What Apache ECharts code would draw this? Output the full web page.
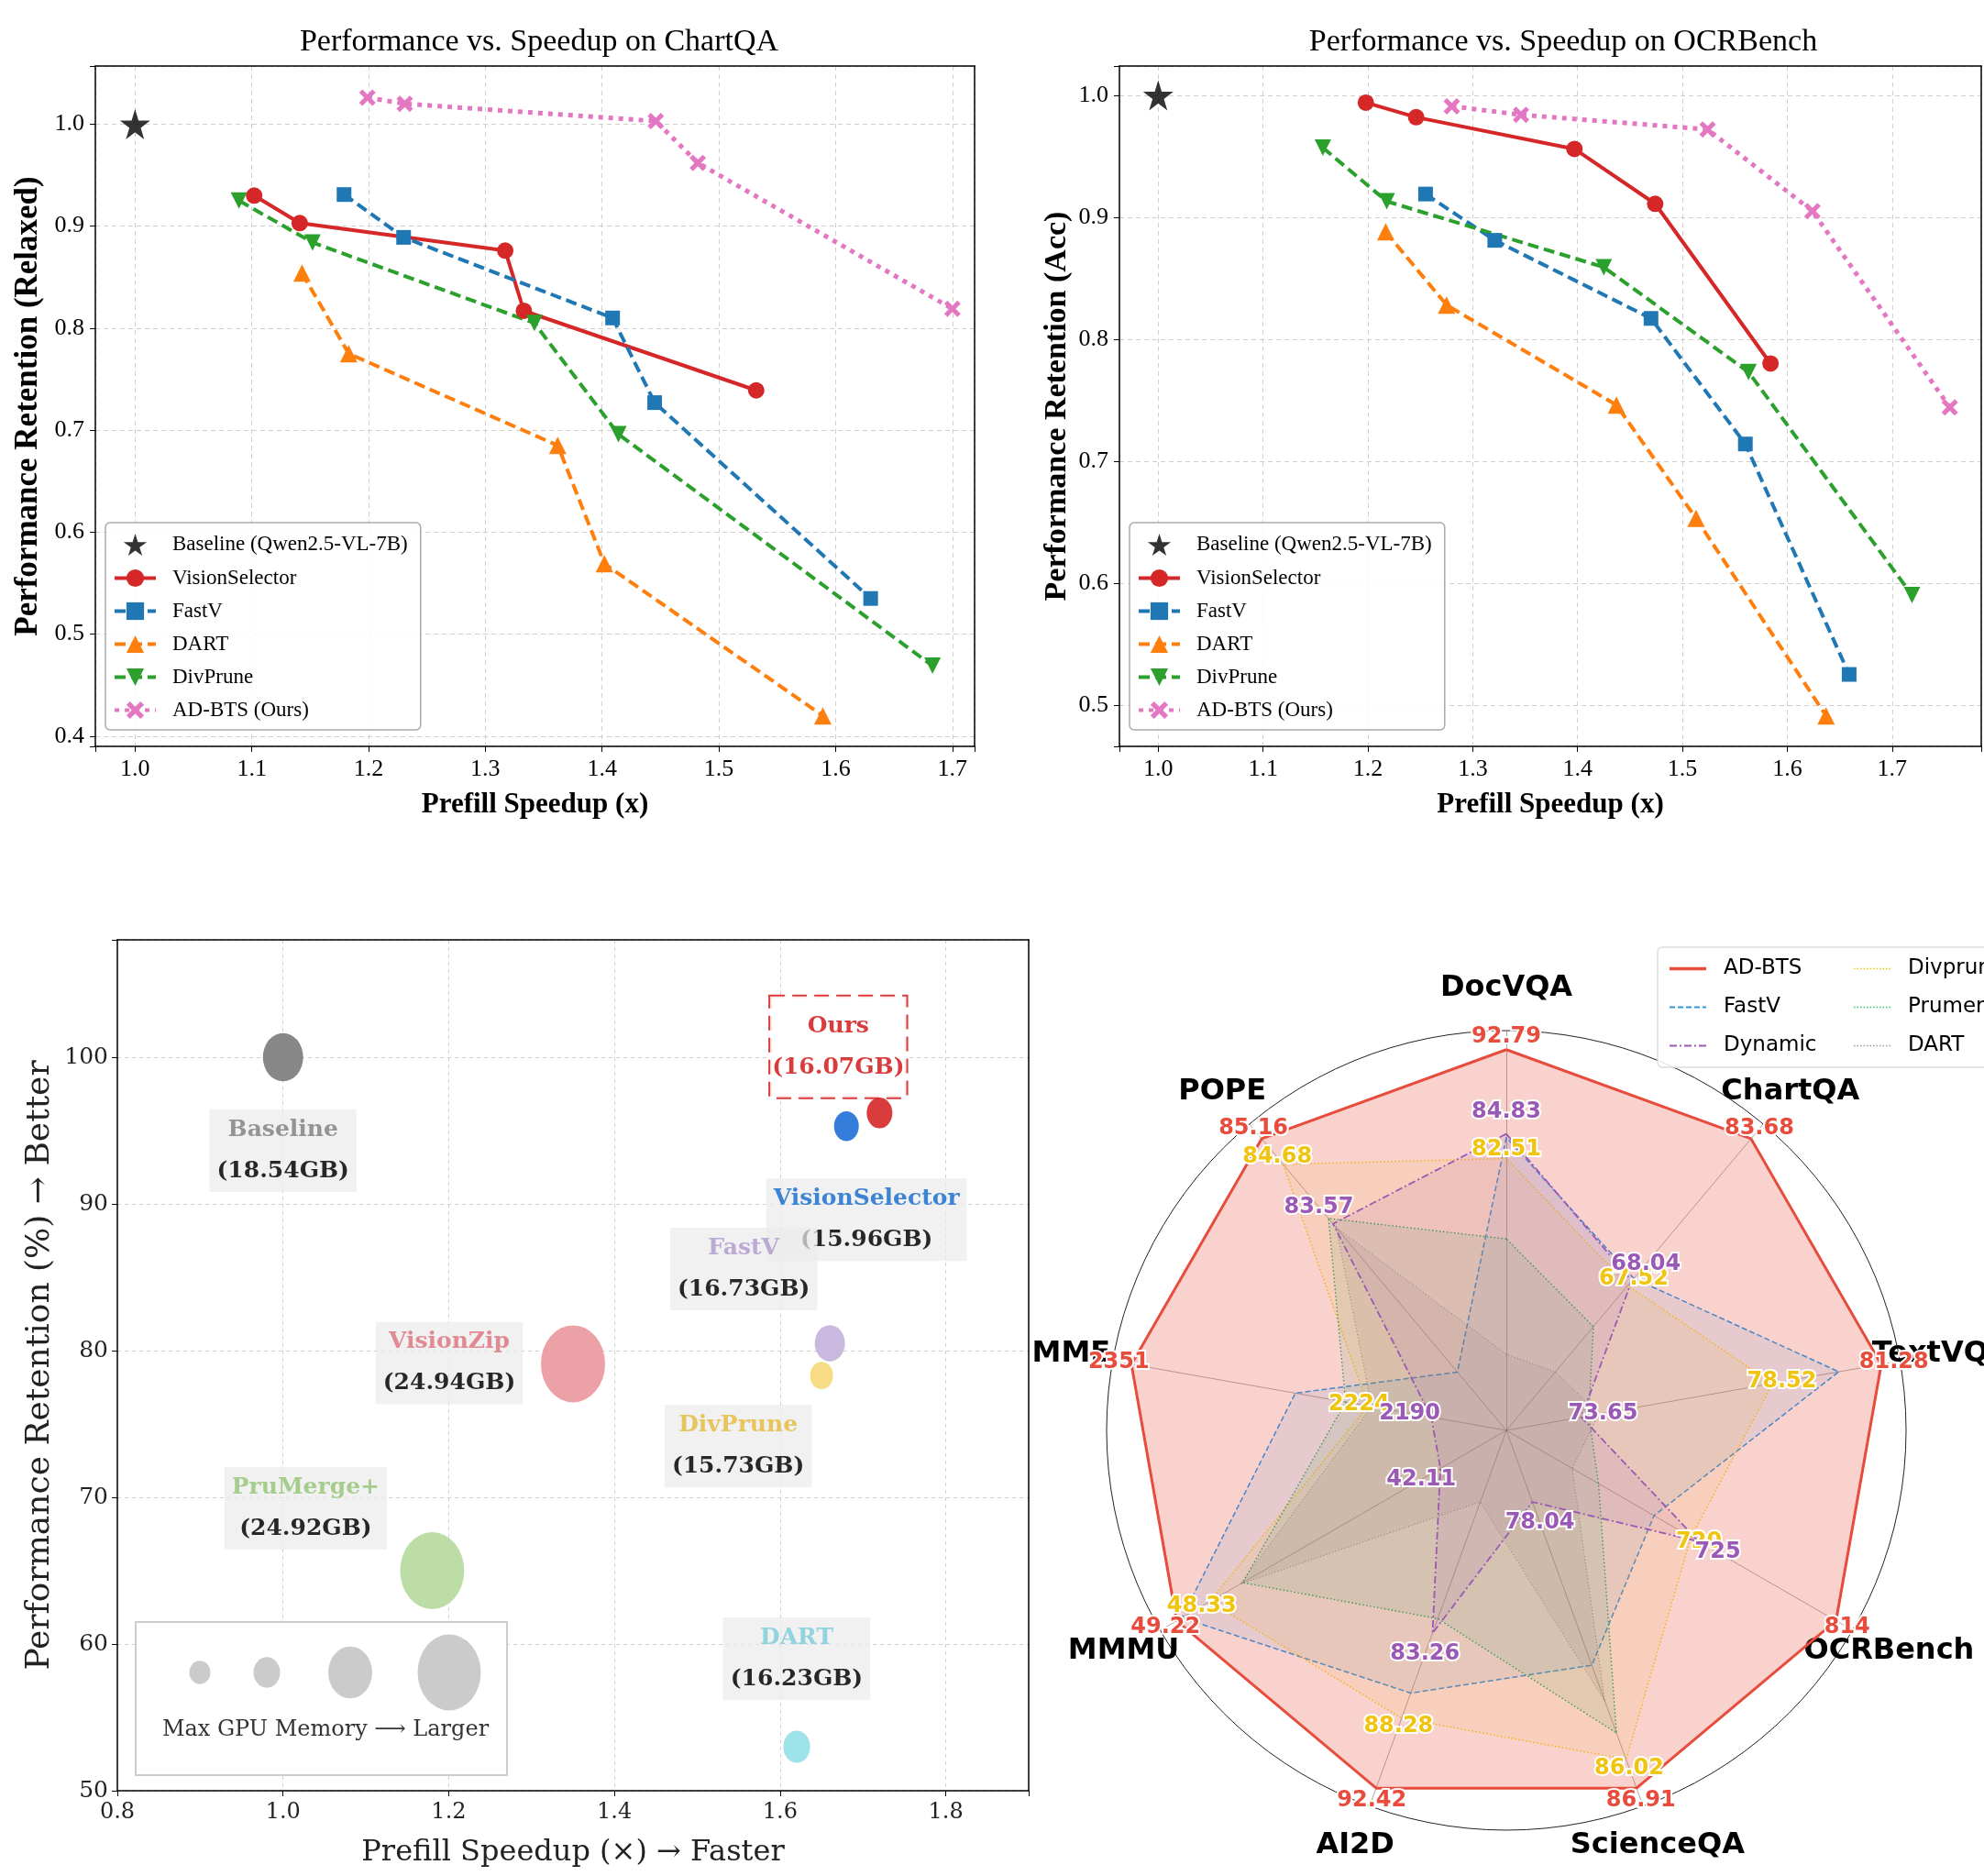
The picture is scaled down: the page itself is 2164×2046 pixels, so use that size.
<!DOCTYPE html>
<html>
<head>
<meta charset="utf-8">
<script src="https://cdn.jsdelivr.net/npm/echarts@6/dist/echarts.min.js"></script>
<style>
html, body { margin: 0; padding: 0; background: #fff; }
#chart { width: 2164px; height: 2046px; }
</style>
</head>
<body>
<div id="chart"></div>
<script>
// ChartQA curves: [prefill speedup, performance retention]
var cqBaseline = [[1.0, 1.0]];
var cqVisionSelector = [[1.102, 0.930], [1.141, 0.903], [1.317, 0.876], [1.333, 0.817], [1.532, 0.739]];
var cqFastV = [[1.179, 0.931], [1.230, 0.889], [1.409, 0.810], [1.445, 0.727], [1.630, 0.535]];
var cqDart = [[1.143, 0.854], [1.183, 0.775], [1.362, 0.685], [1.402, 0.569], [1.589, 0.420]];
var cqDivPrune = [[1.089, 0.925], [1.152, 0.884], [1.342, 0.805], [1.414, 0.696], [1.683, 0.469]];
var cqAdbts = [[1.199, 1.026], [1.231, 1.020], [1.446, 1.003], [1.482, 0.962], [1.700, 0.819]];

// OCRBench curves
var ocrBaseline = [[1.0, 1.0]];
var ocrVisionSelector = [[1.198, 0.994], [1.246, 0.982], [1.397, 0.956], [1.474, 0.911], [1.584, 0.780]];
var ocrFastV = [[1.255, 0.919], [1.321, 0.881], [1.470, 0.817], [1.560, 0.714], [1.659, 0.525]];
var ocrDart = [[1.217, 0.888], [1.275, 0.828], [1.437, 0.746], [1.513, 0.653], [1.637, 0.491]];
var ocrDivPrune = [[1.157, 0.957], [1.218, 0.913], [1.425, 0.859], [1.563, 0.773], [1.719, 0.590]];
var ocrAdbts = [[1.280, 0.991], [1.346, 0.984], [1.524, 0.972], [1.624, 0.905], [1.755, 0.744]];

// bubble chart
var bubbleMethods = ['Baseline', 'Ours', 'VisionSelector', 'FastV', 'DivPrune', 'VisionZip', 'PruMerge+', 'DART'];
var bubbleSpeedup = [1.0, 1.72, 1.68, 1.66, 1.65, 1.35, 1.18, 1.62];
var bubbleRetention = [100, 96.2, 95.3, 80.5, 78.3, 79.1, 65.0, 53.0];
var bubbleMemory = [18.54, 16.07, 15.96, 16.73, 15.73, 24.94, 24.92, 16.23];

// radar, benchmarks clockwise from the top
var radarAxes = ['DocVQA', 'ChartQA', 'TextVQA', 'OCRBench', 'ScienceQA', 'AI2D', 'MMMU', 'MME', 'POPE'];
var radarAdbts = [92.79, 83.68, 81.28, 814, 86.91, 92.42, 49.22, 2351, 85.16];
var radarFastV = [84.5, 68.3, 80.2, 696, 83.1, 86.8, 49.08, 2263, 80.8];
var radarDynamic = [84.83, 68.04, 73.65, 725, 78.04, 83.26, 42.11, 2190, 83.57];
var radarDivprune = [82.51, 67.52, 78.52, 720, 86.02, 88.28, 48.33, 2224, 84.68];
var radarPrumerge = [74.9, 63.0, 73.84, 660, 85.2, 82.4, 47.44, 2236, 83.67];
var radarDart = [64.0, 58.0, 74.1, 643, 84.2, 75.5, 47.5, 2222, 83.5];

var SERIF = 'Liberation Serif';
var DSERIF = 'DejaVu Serif';
var SANS = 'DejaVu Sans';
var STAR = 'path://M50,0L61,35L98,35L68,57L79,91L50,70L21,91L32,57L2,35L39,35Z';
var XMARK = 'path://M2,0L5,3L8,0L10,2L7,5L10,8L8,10L5,7L2,10L0,8L3,5L0,2Z';
var TRI_DOWN = 'path://M0,0L10,0L5,8.66Z';
var DASH = [12, 6];
var RADAR_C = [1643, 1560];

function tenth(v) {
    var k = Math.round(v * 10);
    return Math.abs(v * 10 - k) < 1e-6 ? (k / 10).toFixed(1) : '';
}
function fifth(v) {
    var k = Math.round(v * 5);
    return Math.abs(v * 5 - k) < 1e-6 ? (k / 5).toFixed(1) : '';
}

function topX(gi, min, max) {
    return {
        type: 'value', gridIndex: gi, min: min, max: max, splitNumber: 8,
        name: 'Prefill Speedup (x)', nameLocation: 'middle', nameGap: 48,
        nameTextStyle: { fontFamily: SERIF, fontSize: 31, fontWeight: 'bold', color: '#000' },
        axisLine: { onZero: false, lineStyle: { color: '#000', width: 1.5 } },
        axisTick: { show: true, length: 6, lineStyle: { color: '#000' } },
        axisLabel: { formatter: tenth, fontFamily: SERIF, fontSize: 26, color: '#000', margin: 12 },
        splitLine: { show: true, lineStyle: { color: '#cfcfcf', type: [5, 4], width: 1 } }
    };
}
function topY(gi, min, max, split, name, gap, size) {
    return {
        type: 'value', gridIndex: gi, min: min, max: max, splitNumber: split,
        name: name, nameLocation: 'middle', nameGap: gap,
        nameTextStyle: { fontFamily: SERIF, fontSize: size, fontWeight: 'bold', color: '#000' },
        axisLine: { onZero: false, lineStyle: { color: '#000', width: 1.5 } },
        axisTick: { show: true, length: 6, lineStyle: { color: '#000' } },
        axisLabel: { formatter: tenth, fontFamily: SERIF, fontSize: 26, color: '#000', margin: 12 },
        splitLine: { show: true, lineStyle: { color: '#cfcfcf', type: [5, 4], width: 1 } }
    };
}
// plain spine for the top / right side of a panel
function spineX(gi, min, max) {
    return { type: 'value', gridIndex: gi, position: 'top', min: min, max: max,
             axisLine: { onZero: false, lineStyle: { color: '#000', width: 1.5 } },
             axisTick: { show: false }, axisLabel: { show: false }, splitLine: { show: false } };
}
function spineY(gi, min, max) {
    return { type: 'value', gridIndex: gi, position: 'right', min: min, max: max,
             axisLine: { onZero: false, lineStyle: { color: '#000', width: 1.5 } },
             axisTick: { show: false }, axisLabel: { show: false }, splitLine: { show: false } };
}

function methodLine(name, data, gi, color, symbol, size, dash, width) {
    return {
        type: 'line', name: name, xAxisIndex: gi, yAxisIndex: gi, data: data,
        symbol: symbol, symbolSize: size, z: 3,
        lineStyle: { color: color, width: width, type: dash },
        itemStyle: { color: color }
    };
}
function chartSeries(gi, base, vs, fv, dart, dp, ours) {
    return [
        { type: 'scatter', name: 'Baseline (Qwen2.5-VL-7B)', xAxisIndex: gi, yAxisIndex: gi, data: base,
          symbol: STAR, symbolSize: 33, itemStyle: { color: '#000' }, z: 4 },
        methodLine('VisionSelector', vs, gi, '#d62728', 'circle', 18, 'solid', 4),
        methodLine('FastV', fv, gi, '#1f77b4', 'rect', 16, DASH, 4),
        methodLine('DART', dart, gi, '#ff7f0e', 'triangle', 19, DASH, 4),
        methodLine('DivPrune', dp, gi, '#2ca02c', TRI_DOWN, 18, DASH, 4),
        methodLine('AD-BTS (Ours)', ours, gi, '#e377c2', XMARK, 18, [5, 6], 5)
    ];
}
var topNames = ['Baseline (Qwen2.5-VL-7B)', 'VisionSelector', 'FastV', 'DART', 'DivPrune', 'AD-BTS (Ours)'];
function topLegend(left) {
    return {
        left: left, top: 570, orient: 'vertical', data: topNames,
        itemWidth: 45, itemHeight: 24, itemGap: 13,
        padding: [12, 14, 10, 8], backgroundColor: 'rgba(255,255,255,0.85)',
        borderColor: '#aaa', borderWidth: 1.5, borderRadius: 5,
        lineStyle: { width: 4 },
        textStyle: { fontFamily: SERIF, fontSize: 23, color: '#000', padding: [0, 0, 0, 13], lineHeight: 20 }
    };
}

// bubble chart styling
var bubbleStyle = {
    'Baseline': { fill: '#7a7a7a', text: '#8a8a8a', mem: '#111', offset: [0, 102] },
    'Ours': { fill: '#d62728', text: '#d62728', mem: '#d62728', offset: [-45, -72], box: 'dashed' },
    'VisionSelector': { fill: '#1f6fd6', text: '#2a78d0', mem: '#111', offset: [22, 102] },
    'FastV': { fill: '#c3b1da', text: '#b4a2d0', mem: '#111', offset: [-94, -81] },
    'DivPrune': { fill: '#f6d878', text: '#e5c04c', mem: '#111', offset: [-91, 77] },
    'VisionZip': { fill: '#e9979c', text: '#de8088', mem: '#111', offset: [-135, -1] },
    'PruMerge+': { fill: '#b5d99c', text: '#9dc983', mem: '#111', offset: [-138, -68] },
    'DART': { fill: '#95e0e8', text: '#84d0dc', mem: '#111', offset: [0, -96] }
};
var bubbleData = bubbleMethods.map(function (m, i) {
    var st = bubbleStyle[m];
    var dashed = st.box === 'dashed';
    return {
        name: m,
        value: [bubbleSpeedup[i], bubbleRetention[i], bubbleMemory[i]],
        itemStyle: { color: st.fill, opacity: 0.9 },
        label: {
            show: true, position: 'inside', offset: st.offset,
            formatter: '{n|' + m + '}\n{m|(' + bubbleMemory[i].toFixed(2) + 'GB)}',
            backgroundColor: dashed ? '#fff' : 'rgba(236,236,236,0.8)',
            borderColor: dashed ? '#d62728' : 'transparent', borderWidth: dashed ? 2 : 0,
            borderType: 'dashed',
            padding: dashed ? [10, 2, 10, 2] : [0, 8, 0, 8],
            rich: {
                n: { color: st.text, fontFamily: DSERIF, fontWeight: 'bold', fontSize: 25, lineHeight: 45 },
                m: { color: st.mem, fontFamily: DSERIF, fontWeight: 'bold', fontSize: 25, lineHeight: 45 }
            }
        }
    };
});

// radar: ECharts lays indicators counter-clockwise, so reverse the tail
var radarOrder = [0, 8, 7, 6, 5, 4, 3, 2, 1];
function ordered(arr) { return radarOrder.map(function (i) { return arr[i]; }); }
var radarAll = [radarAdbts, radarFastV, radarDynamic, radarDivprune, radarPrumerge, radarDart];
var indicators = radarOrder.map(function (i) {
    var col = radarAll.map(function (s) { return s[i]; });
    var lo = Math.min.apply(null, col), hi = Math.max.apply(null, col);
    // each benchmark scaled to 0.2..1 between worst and best, outer ring at 1.05
    return { name: radarAxes[i], min: lo - 0.25 * (hi - lo), max: lo + 1.0625 * (hi - lo) };
});
// push value labels a little outward from the radar centre
function radialLabel(push) {
    return function (p) {
        var x = p.rect.x + p.rect.width / 2 - RADAR_C[0];
        var y = p.rect.y + p.rect.height / 2 - RADAR_C[1];
        var len = Math.sqrt(x * x + y * y) || 1;
        return { dx: x / len * push, dy: y / len * push };
    };
}
function radarSeries(name, values, color, dash, width, fill, labelColor, push) {
    return {
        type: 'radar', radarIndex: 0, symbol: 'circle', symbolSize: 1, z: 2,
        data: [{ name: name, value: ordered(values) }],
        lineStyle: { color: color, width: width, type: dash },
        itemStyle: { color: color },
        areaStyle: { color: color, opacity: fill },
        labelLayout: radialLabel(push || 0),
        label: labelColor ? {
            show: true, position: 'inside', color: labelColor,
            fontFamily: SANS, fontWeight: 'bold', fontSize: 24,
            textBorderColor: '#fff', textBorderWidth: 4
        } : { show: false }
    };
}
function dashIcon(pattern, total, thick) {
    var d = '', x = 0, i = 0;
    while (x < total) {
        var step = pattern[i % pattern.length];
        var len = Math.min(step, total - x);
        if (i % 2 === 0) d += 'M' + x + ',0h' + len + 'v' + thick + 'h' + (-len) + 'z';
        x += step; i++;
    }
    return 'path://' + d;
}
function radarItem(name, icon, color) {
    return { name: name, icon: icon, itemStyle: { color: color, borderWidth: 0 } };
}
var radarText = { fontFamily: SANS, fontSize: 23, color: '#000', padding: [0, 0, 0, 14], lineHeight: 16 };

var option = {
    animation: false,
    backgroundColor: '#fff',
    title: [
        { text: 'Performance vs. Speedup on ChartQA', left: 583, top: 24, textAlign: 'center',
          textStyle: { fontFamily: SERIF, fontSize: 34, fontWeight: 'normal', color: '#000' } },
        { text: 'Performance vs. Speedup on OCRBench', left: 1700, top: 24, textAlign: 'center',
          textStyle: { fontFamily: SERIF, fontSize: 34, fontWeight: 'normal', color: '#000' } }
    ],
    grid: [
        { left: 104, top: 72, width: 959, height: 742 },
        { left: 1221, top: 72, width: 951, height: 742 },
        { left: 128, top: 1025, width: 994, height: 928 }
    ],
    xAxis: [
        topX(0, 0.966, 1.719),
        topX(1, 0.963, 1.785),
        {
            type: 'value', gridIndex: 2, min: 0.8, max: 1.9, interval: 0.2,
            name: 'Prefill Speedup (\u00d7) \u2192 Faster', nameLocation: 'middle', nameGap: 52,
            nameTextStyle: { fontFamily: DSERIF, fontSize: 32, color: '#222' },
            axisLine: { onZero: false, lineStyle: { color: '#000', width: 1.5 } },
            axisTick: { show: true, length: 6, lineStyle: { color: '#000' } },
            axisLabel: { formatter: fifth, fontFamily: DSERIF, fontSize: 24, color: '#222', margin: 12 },
            splitLine: { show: true, lineStyle: { color: '#d0d0d0', type: [4, 4], width: 1 } }
        },
        spineX(0, 0.966, 1.719),
        spineX(1, 0.963, 1.785),
        spineX(2, 0.8, 1.9)
    ],
    yAxis: [
        topY(0, 0.39, 1.057, 7, 'Performance Retention (Relaxed)', 56, 35),
        topY(1, 0.466, 1.024, 6, 'Performance Retention (Acc)', 51, 34),
        {
            type: 'value', gridIndex: 2, min: 50, max: 108, interval: 10,
            name: 'Performance Retention (%) \u2192 Better', nameLocation: 'middle', nameGap: 66,
            nameTextStyle: { fontFamily: DSERIF, fontSize: 36, color: '#222' },
            axisLine: { onZero: false, lineStyle: { color: '#000', width: 1.5 } },
            axisTick: { show: true, length: 6, lineStyle: { color: '#000' } },
            axisLabel: { formatter: function (v) { return v % 10 === 0 ? String(v) : ''; },
                         fontFamily: DSERIF, fontSize: 25, color: '#222', margin: 10 },
            splitLine: { show: true, lineStyle: { color: '#d0d0d0', type: [4, 4], width: 1 } }
        },
        spineY(0, 0.39, 1.057),
        spineY(1, 0.466, 1.024),
        spineY(2, 50, 108)
    ],
    radar: {
        center: RADAR_C, radius: 436, startAngle: 90, shape: 'circle', splitNumber: 1,
        indicator: indicators,
        axisName: { color: '#000', fontSize: 32, fontWeight: 'bold', fontFamily: SANS,
                    align: 'center', verticalAlign: 'middle' },
        axisNameGap: 46,
        axisLine: { lineStyle: { color: 'rgba(120,110,108,0.6)', width: 1 } },
        splitLine: { lineStyle: { color: '#222', width: 1 } },
        splitArea: { show: false },
        axisTick: { show: false },
        axisLabel: { show: false }
    },
    legend: [
        topLegend(115),
        topLegend(1232),
        {
            left: 1808, top: 1033, orient: 'vertical',
            data: [
                radarItem('AD-BTS', 'path://M0,0h40v3.5h-40z', '#e74c3c'),
                radarItem('FastV', dashIcon([6, 3], 40, 2), '#3498db'),
                radarItem('Dynamic', dashIcon([8, 3, 2, 3], 40, 2), '#9b59b6')
            ],
            itemWidth: 40, itemHeight: 12, itemGap: 19,
            padding: [12, 400, 12, 13], backgroundColor: 'rgba(255,255,255,0.85)',
            borderColor: '#ddd', borderWidth: 1.5, borderRadius: 5,
            textStyle: radarText
        },
        {
            left: 2022, top: 1045, orient: 'vertical',
            data: [
                radarItem('Divprune', dashIcon([1.5, 2], 40, 1.5), '#f1c40f'),
                radarItem('Prumerge', dashIcon([1.5, 2], 40, 1.5), '#2ecc71'),
                radarItem('DART', dashIcon([1.5, 2], 40, 1.5), '#999')
            ],
            itemWidth: 40, itemHeight: 12, itemGap: 19, padding: 0,
            textStyle: radarText
        }
    ],
    graphic: [
        { type: 'rect', z: 10, shape: { x: 148, y: 1769, width: 405, height: 167 },
          style: { fill: '#fff', stroke: '#ccc', lineWidth: 2 } },
        { type: 'circle', z: 11, x: 218, y: 1824, scaleY: 1.1, shape: { cx: 0, cy: 0, r: 11.5 }, style: { fill: '#cbcbcb' } },
        { type: 'circle', z: 11, x: 291, y: 1824, scaleY: 1.15, shape: { cx: 0, cy: 0, r: 14.5 }, style: { fill: '#cbcbcb' } },
        { type: 'circle', z: 11, x: 382, y: 1824, scaleY: 1.18, shape: { cx: 0, cy: 0, r: 24 }, style: { fill: '#cbcbcb' } },
        { type: 'circle', z: 11, x: 490, y: 1824, scaleY: 1.2, shape: { cx: 0, cy: 0, r: 34.5 }, style: { fill: '#cbcbcb' } },
        { type: 'text', z: 11, x: 355, y: 1887,
          style: { text: 'Max GPU Memory \u27f6 Larger', fill: '#333', font: '24px "DejaVu Serif"',
                   align: 'center', verticalAlign: 'middle' } }
    ],
    series: [].concat(
        chartSeries(0, cqBaseline, cqVisionSelector, cqFastV, cqDart, cqDivPrune, cqAdbts),
        chartSeries(1, ocrBaseline, ocrVisionSelector, ocrFastV, ocrDart, ocrDivPrune, ocrAdbts),
        [{
            type: 'scatter', name: 'bubbles', xAxisIndex: 2, yAxisIndex: 2, data: bubbleData, z: 3,
            symbolSize: function (v) {
                var d = Math.sqrt(464 * (v[2] - 14.38));
                return [d, d * 1.2];
            }
        }],
        [
            radarSeries('AD-BTS', radarAdbts, '#e74c3c', 'solid', 3, 0.25, '#e74c3c', 14),
            radarSeries('FastV', radarFastV, '#4a86c8', [6, 3], 1.5, 0.1, null),
            radarSeries('Divprune', radarDivprune, '#f5b41e', [1.5, 2.5], 1.6, 0.1, '#f1c40f', 10),
            radarSeries('Prumerge', radarPrumerge, '#3a9a5a', [1.5, 2.5], 1.4, 0.1, null),
            radarSeries('DART', radarDart, '#8a7a76', [1, 2.5], 1, 0.1, null),
            radarSeries('Dynamic', radarDynamic, '#9b59b6', [8, 3, 2, 3], 1.8, 0.1, '#9b59b6', 24)
        ]
    )
};

var chart = echarts.init(document.getElementById('chart'));
chart.setOption(option);
</script>
</body>
</html>
